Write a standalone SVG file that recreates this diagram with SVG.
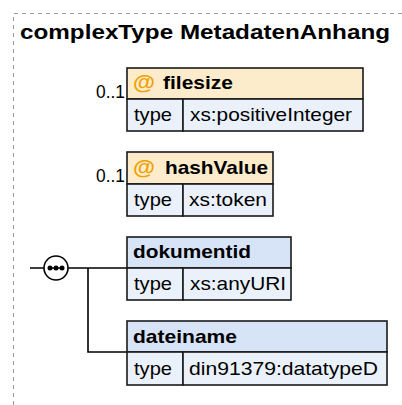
<svg xmlns="http://www.w3.org/2000/svg" width="402" height="405" viewBox="0 0 402 405">
<style>
.frame{fill:none;stroke:#9a9a9a;stroke-width:1;stroke-dasharray:4,4}
.title{font-family:"Liberation Sans",Arial,sans-serif;font-weight:bold;font-size:20px;fill:#000}
.box{stroke:#1a1a1a;stroke-width:1.6}
.attr{fill:#fdeccb}
.elem{fill:#d7e3f7}
.row{fill:#eaf1fb}
.name{font-family:"Liberation Sans",Arial,sans-serif;font-weight:bold;font-size:19px;fill:#000}
.at{font-family:"Liberation Sans",Arial,sans-serif;font-weight:bold;font-size:20px;fill:#f0a000}
.txt{font-family:"Liberation Sans",Arial,sans-serif;font-size:19px;fill:#000}
.occ{font-family:"Liberation Sans",Arial,sans-serif;font-size:18px;fill:#000;text-anchor:end}
.line{fill:none;stroke:#000;stroke-width:1.6}
</style>
<path class="frame" d="M13.5,405 V13.5 H402"/>
<text class="title" x="20" y="39" textLength="370" lengthAdjust="spacingAndGlyphs">complexType MetadatenAnhang</text>
<g id="connectors">
<path class="line" d="M30,268 H44 M68,268 H127 M88,268 V352 H127"/>
</g>
<g id="sequence">
<circle cx="56" cy="268" r="12" fill="#fff" stroke="#000" stroke-width="1.6"/>
<path d="M49,268 H63" stroke="#000" stroke-width="1.4"/>
<circle cx="50" cy="268" r="2.5"/><circle cx="56" cy="268" r="2.5"/><circle cx="62" cy="268" r="2.5"/>
</g>
<g id="filesize">
<text class="occ" x="125" y="98" textLength="29" lengthAdjust="spacingAndGlyphs">0..1</text>
<rect class="box attr" x="127" y="68" width="236" height="31"/>
<rect class="box row" x="127" y="99" width="56" height="32"/>
<rect class="box row" x="183" y="99" width="180" height="32"/>
<text class="at" x="133" y="89" textLength="22" lengthAdjust="spacingAndGlyphs">@</text>
<text class="name" x="163" y="89" textLength="70" lengthAdjust="spacingAndGlyphs">filesize</text>
<text class="txt" x="134" y="121" textLength="38" lengthAdjust="spacingAndGlyphs">type</text>
<text class="txt" x="190" y="121" textLength="162" lengthAdjust="spacingAndGlyphs">xs:positiveInteger</text>
</g>
<g id="hashValue">
<text class="occ" x="125" y="182" textLength="29" lengthAdjust="spacingAndGlyphs">0..1</text>
<rect class="box attr" x="127" y="152" width="146" height="32"/>
<rect class="box row" x="127" y="184" width="56" height="32"/>
<rect class="box row" x="183" y="184" width="90" height="32"/>
<text class="at" x="133" y="174" textLength="22" lengthAdjust="spacingAndGlyphs">@</text>
<text class="name" x="165" y="174" textLength="103" lengthAdjust="spacingAndGlyphs">hashValue</text>
<text class="txt" x="134" y="206" textLength="38" lengthAdjust="spacingAndGlyphs">type</text>
<text class="txt" x="189" y="206" textLength="78" lengthAdjust="spacingAndGlyphs">xs:token</text>
</g>
<g id="dokumentid">
<rect class="box elem" x="127" y="237" width="164" height="31"/>
<rect class="box row" x="127" y="268" width="56" height="32"/>
<rect class="box row" x="183" y="268" width="108" height="32"/>
<text class="name" x="133" y="258" textLength="118" lengthAdjust="spacingAndGlyphs">dokumentid</text>
<text class="txt" x="134" y="290" textLength="38" lengthAdjust="spacingAndGlyphs">type</text>
<text class="txt" x="190" y="290" textLength="96" lengthAdjust="spacingAndGlyphs">xs:anyURI</text>
</g>
<g id="dateiname">
<rect class="box elem" x="127" y="321" width="260" height="31"/>
<rect class="box row" x="127" y="352" width="56" height="33"/>
<rect class="box row" x="183" y="352" width="204" height="33"/>
<text class="name" x="133" y="343" textLength="104" lengthAdjust="spacingAndGlyphs">dateiname</text>
<text class="txt" x="134" y="375" textLength="38" lengthAdjust="spacingAndGlyphs">type</text>
<text class="txt" x="189" y="375" textLength="189" lengthAdjust="spacingAndGlyphs">din91379:datatypeD</text>
</g>
</svg>
